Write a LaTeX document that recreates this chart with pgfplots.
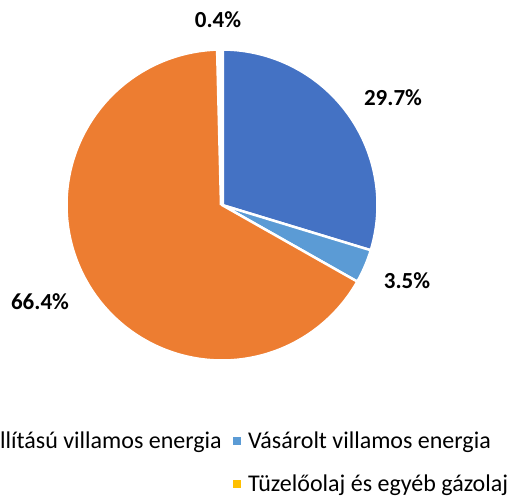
\documentclass[border=0pt]{standalone}
\usepackage{pgfplots}
\pgfplotsset{compat=1.18}
\usepackage{fontspec}
\setmainfont{Carlito}
\definecolor{cBlue}{HTML}{4472C4}
\definecolor{cLBlue}{HTML}{5B9BD5}
\definecolor{cOrange}{HTML}{ED7D31}
\definecolor{cYellow}{HTML}{FFC000}
\begin{document}
\begin{tikzpicture}
% data (percent shares)
\def\vA{29.7}\def\vB{3.5}\def\vC{66.4}\def\vD{0.4}
\pgfmathsetmacro\aA{90}
\pgfmathsetmacro\aB{\aA-3.6*\vA}
\pgfmathsetmacro\aC{\aB-3.6*\vB}
\pgfmathsetmacro\aD{\aC-3.6*\vC}
\pgfmathsetmacro\aE{\aD-3.6*\vD}
\def\cx{222}\def\cy{293}\def\rr{155.5}
\path[use as bounding box] (0,0) rectangle (514bp,498bp);
\clip (0,0) rectangle (514bp,498bp);
\begin{axis}[at={(0,0)},anchor=south west,x=1bp,y=1bp,
  xmin=0,xmax=514,ymin=0,ymax=498,hide axis,clip=false,
  scale only axis]
\addplot[fill=cBlue,draw=white,line width=2.5bp,domain=\aB:\aA,samples=90,variable=\t]
  ({\cx+\rr*cos(\t)},{\cy+\rr*sin(\t)}) -- (\cx,\cy) -- cycle;
\addplot[fill=cLBlue,draw=white,line width=2.5bp,domain=\aC:\aB,samples=20,variable=\t]
  ({\cx+\rr*cos(\t)},{\cy+\rr*sin(\t)}) -- (\cx,\cy) -- cycle;
\addplot[fill=cOrange,draw=white,line width=2.5bp,domain=\aD:\aC,samples=180,variable=\t]
  ({\cx+\rr*cos(\t)},{\cy+\rr*sin(\t)}) -- (\cx,\cy) -- cycle;
\addplot[fill=cYellow,draw=white,line width=4.5bp,domain=\aE:\aD,samples=5,variable=\t]
  ({\cx+\rr*cos(\t)},{\cy+\rr*sin(\t)}) -- (\cx,\cy) -- cycle;
\begin{scope}[every node/.style={font=\fontsize{23bp}{27bp}\selectfont\bfseries,inner sep=0pt}]
\node at (218,478) {0.4\%};
\node at (393,400) {29.7\%};
\node at (407,217) {3.5\%};
\node at (40,196) {66.4\%};
\end{scope}
\begin{scope}[every node/.style={font=\fontsize{24bp}{28bp}\selectfont,inner sep=0pt}]
\node[anchor=base east] at (222,50) {Saját előállítású villamos energia};
\fill[cLBlue] (233,53) rectangle (241,61);
\node[anchor=base west] at (248,50) {Vásárolt villamos energia};
\fill[cYellow] (233,10) rectangle (241,18);
\node[anchor=base west] at (248,7) {Tüzelőolaj és egyéb gázolaj};
\end{scope}
\end{axis}
\end{tikzpicture}
\end{document}
